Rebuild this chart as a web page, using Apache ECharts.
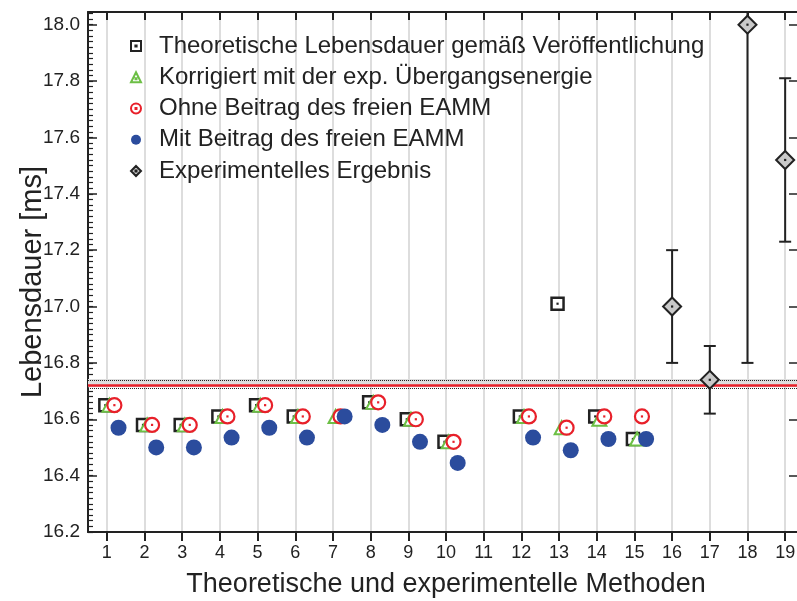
<!DOCTYPE html>
<html>
<head>
<meta charset="utf-8">
<script src="https://cdn.jsdelivr.net/npm/echarts@6/dist/echarts.min.js"></script>
<style>
html, body { margin: 0; padding: 0; background: #fff; }
#chart { width: 797px; height: 601px; }
</style>
</head>
<body>
<div id="chart"></div>
<script>
// Methods 1–15: theoretical lifetimes (ms)
const methods = [1, 2, 3, 4, 5, 6, 7, 8, 9, 10, 11, 12, 13, 14, 15];
const theoPublished = [16.65, 16.58, 16.58, 16.61, 16.65, 16.61, null, 16.66, 16.60, 16.52, null, 16.61, 17.01, 16.61, 16.53];
const correctedExpEnergy = [16.65, 16.58, 16.58, 16.61, 16.65, 16.61, 16.61, 16.66, 16.60, 16.52, null, 16.61, 16.57, 16.60, 16.53];
const withoutFreeEAMM = [16.65, 16.58, 16.58, 16.61, 16.65, 16.61, 16.61, 16.66, 16.60, 16.52, null, 16.61, 16.57, 16.61, 16.61];
const withFreeEAMM = [16.57, 16.50, 16.50, 16.535, 16.57, 16.535, 16.61, 16.58, 16.52, 16.445, null, 16.535, 16.49, 16.53, 16.53];

// Methods 16–19: experimental results with uncertainty range
const expMethods = [16, 17, 18, 19];
const expValue = [17.00, 16.74, 18.00, 17.52];
const expLow = [16.80, 16.62, 16.80, 17.23];
const expHigh = [17.20, 16.86, 19.20, 17.81];

// Reference value with its uncertainty band
const refValue = 16.722;
const refBandLow = 16.714;
const refBandHigh = 16.743;

const seriesNames = [
  'Theoretische Lebensdauer gemäß Veröffentlichung',
  'Korrigiert mit der exp. Übergangsenergie',
  'Ohne Beitrag des freien EAMM',
  'Mit Beitrag des freien EAMM',
  'Experimentelles Ergebnis'
];

const FONT = 'Liberation Sans, Arial, Helvetica, sans-serif';
const INK = '#222222';
const BLUE = '#2b4c9d';
const RED = '#e8202a';
const GREEN = '#6cbf45';
const GREY_FILL = '#c9c9c9';

// horizontal offsets so that overlapping markers of one method stay readable
const OFF_SQ = -0.04, OFF_TRI = 0.07, OFF_RED = 0.2, OFF_BLUE = 0.31;

function pairs(xs, ys, dx) {
  const out = [];
  xs.forEach((x, i) => { if (ys[i] != null) out.push([x + dx, ys[i]]); });
  return out;
}

const chart = echarts.init(document.getElementById('chart'), null, { renderer: 'canvas' });

const dotSeries = (data, color, z) => ({
  type: 'scatter', data, symbol: 'rect', symbolSize: 2.2,
  itemStyle: { color, opacity: 1 }, silent: true, z, legendHoverLink: false
});

const option = {
  animation: false,
  backgroundColor: '#ffffff',
  textStyle: { fontFamily: FONT },
  grid: { left: 88, top: 12, width: 716, height: 520, containLabel: false, outerBoundsMode: 'none' },
  legend: {
    orient: 'vertical', left: 125, top: 29,
    itemWidth: 10, itemHeight: 10, itemGap: 7.25,
    selectedMode: false,
    textStyle: { fontFamily: FONT, fontSize: 24, color: INK, lineHeight: 24, padding: [0, 0, 0, 13] },
    data: [
      { name: seriesNames[0], icon: 'path://M0,0H10V10H0Z M4.4,4.4H5.6V5.6H4.4Z', itemStyle: { color: '#fff', borderColor: INK, borderWidth: 2, opacity: 1 } },
      { name: seriesNames[1], icon: 'path://M5,0L10,10H0Z M4.5,6H5.5V7H4.5Z', itemStyle: { color: '#fff', borderColor: GREEN, borderWidth: 2, opacity: 1 } },
      { name: seriesNames[2], icon: 'path://M5,0A5,5 0 1 1 4.99,0Z M4.5,4.5H5.5V5.5H4.5Z', itemStyle: { color: '#fff', borderColor: RED, borderWidth: 2, opacity: 1 } },
      { name: seriesNames[3], icon: 'circle', itemStyle: { color: BLUE, borderWidth: 0, opacity: 1 } },
      { name: seriesNames[4], icon: 'path://M5,0L10,5L5,10L0,5Z M4.5,4.5H5.5V5.5H4.5Z', itemStyle: { color: GREY_FILL, borderColor: INK, borderWidth: 2, opacity: 1 } }
    ]
  },
  xAxis: [
    {
      type: 'value', position: 'bottom', min: 0.5, max: 19.5,
      minInterval: 1, maxInterval: 1, splitNumber: 19,
      name: 'Theoretische und experimentelle Methoden',
      nameLocation: 'middle', nameGap: 39, nameMoveOverlap: false,
      nameTextStyle: { fontFamily: FONT, fontSize: 27, color: INK },
      axisLine: { show: true, onZero: false, lineStyle: { color: INK, width: 2 } },
      axisTick: { show: true, inside: false, length: 9, lineStyle: { color: INK, width: 2 } },
      axisLabel: { show: true, margin: 12, fontFamily: FONT, fontSize: 18, color: INK,
        showMinLabel: false, showMaxLabel: false,
        formatter: v => (Number.isInteger(v) ? String(v) : '') },
      splitLine: { show: true, lineStyle: { color: '#d2d2d2', width: 1.5 } }
    },
    {
      type: 'value', position: 'top', min: 0.5, max: 19.5,
      minInterval: 1, maxInterval: 1, splitNumber: 19,
      axisLine: { show: true, onZero: false, lineStyle: { color: INK, width: 2 } },
      axisTick: { show: true, inside: true, length: 8, lineStyle: { color: INK, width: 2 } },
      axisLabel: { show: false },
      splitLine: { show: false }
    }
  ],
  yAxis: [
    {
      type: 'value', position: 'left', min: 16.2, max: 18.045, interval: 0.2,
      name: 'Lebensdauer [ms]', nameLocation: 'middle', nameGap: 41, nameMoveOverlap: false,
      nameTextStyle: { fontFamily: FONT, fontSize: 29, color: INK, padding: [0, 20, 0, 0] },
      axisLine: { show: true, onZero: false, lineStyle: { color: INK, width: 2 } },
      axisTick: { show: true, inside: true, length: 9, lineStyle: { color: INK, width: 1.5 } },
      axisLabel: { show: true, margin: 8, fontFamily: FONT, fontSize: 19, color: INK,
        showMaxLabel: false, formatter: v => v.toFixed(1) },
      splitLine: { show: false }
    },
    {
      type: 'value', position: 'left', min: 16.2, max: 18.045, interval: 0.02,
      axisLine: { show: false },
      axisTick: { show: true, inside: true, length: 5, lineStyle: { color: INK, width: 1.2 } },
      axisLabel: { show: false },
      splitLine: { show: false }
    },
    {
      type: 'value', position: 'right', min: 16.2, max: 18.045, interval: 0.2,
      axisLine: { show: true, onZero: false, lineStyle: { color: INK, width: 2 } },
      axisTick: { show: true, inside: true, length: 15, lineStyle: { color: INK, width: 1.5 } },
      axisLabel: { show: false },
      splitLine: { show: false }
    }
  ],
  series: [
    {
      // reference band and value
      type: 'line', data: [], silent: true, z: 1,
      markArea: {
        silent: true,
        itemStyle: { color: '#dedede' },
        data: [[{ yAxis: refBandLow }, { yAxis: refBandHigh }]]
      },
      markLine: {
        silent: true, symbol: 'none', label: { show: false },
        data: [
          { yAxis: refBandHigh, lineStyle: { color: INK, width: 1, type: [1, 1] } },
          { yAxis: refBandLow, lineStyle: { color: INK, width: 1, type: [1, 1] } },
          { yAxis: refValue, lineStyle: { color: RED, width: 2.5, type: 'solid' } }
        ]
      }
    },
    {
      name: seriesNames[0], type: 'scatter', z: 3,
      data: pairs(methods, theoPublished, OFF_SQ),
      symbol: 'rect', symbolSize: 12,
      itemStyle: { color: '#ffffff', borderColor: INK, borderWidth: 2.5, opacity: 1 }
    },
    dotSeries(pairs(methods, theoPublished, OFF_SQ), INK, 3),
    {
      name: seriesNames[1], type: 'scatter', z: 4,
      data: pairs(methods, correctedExpEnergy, OFF_TRI),
      symbol: 'triangle', symbolSize: [14, 13],
      itemStyle: { color: '#ffffff', borderColor: GREEN, borderWidth: 2, opacity: 1 }
    },
    {
      name: seriesNames[2], type: 'scatter', z: 5,
      data: pairs(methods, withoutFreeEAMM, OFF_RED),
      symbol: 'circle', symbolSize: 14,
      itemStyle: { color: '#ffffff', borderColor: RED, borderWidth: 2.2, opacity: 1 }
    },
    dotSeries(pairs(methods, withoutFreeEAMM, OFF_RED), RED, 5),
    {
      name: seriesNames[3], type: 'scatter', z: 6,
      data: pairs(methods, withFreeEAMM, OFF_BLUE),
      symbol: 'circle', symbolSize: 16,
      itemStyle: { color: BLUE, opacity: 1 }
    },
    {
      // uncertainty bars of the experimental results
      type: 'custom', z: 7, silent: true, clip: true,
      data: expMethods.map((x, i) => [x, expLow[i], expHigh[i]]),
      renderItem: (params, api) => {
        const lo = api.coord([api.value(0), api.value(1)]);
        const hi = api.coord([api.value(0), api.value(2)]);
        const half = 6;
        const style = { stroke: INK, lineWidth: 2 };
        return {
          type: 'group',
          children: [
            { type: 'line', shape: { x1: lo[0], y1: lo[1], x2: hi[0], y2: hi[1] }, style },
            { type: 'line', shape: { x1: lo[0] - half, y1: lo[1], x2: lo[0] + half, y2: lo[1] }, style },
            { type: 'line', shape: { x1: hi[0] - half, y1: hi[1], x2: hi[0] + half, y2: hi[1] }, style }
          ]
        };
      }
    },
    {
      name: seriesNames[4], type: 'scatter', z: 8,
      data: pairs(expMethods, expValue, 0),
      symbol: 'diamond', symbolSize: 18,
      itemStyle: { color: GREY_FILL, borderColor: INK, borderWidth: 2, opacity: 1 }
    },
    dotSeries(pairs(expMethods, expValue, 0), INK, 8)
  ]
};

chart.setOption(option);
</script>
</body>
</html>
